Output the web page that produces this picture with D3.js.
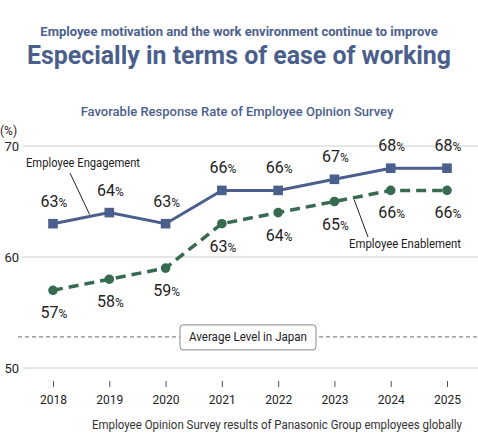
<!DOCTYPE html>
<html>
<head>
<meta charset="utf-8">
<script src="https://cdn.jsdelivr.net/npm/d3@7"></script>
<style>
  body { margin: 0; background: #fff; }
  svg { display: block; font-family: Roboto, "Noto Sans", sans-serif; }
</style>
</head>
<body>
<svg id="chart"></svg>
<script>
// chart data
var years = ["2018", "2019", "2020", "2021", "2022", "2023", "2024", "2025"];
var engagement = [63, 64, 63, 66, 66, 67, 68, 68];
var enablement = [57, 58, 59, 63, 64, 65, 66, 66];
var yTicks = [50, 60, 70];
var japanAverage = 52.8;

var width = 478, height = 437;
var blue = "#4b5f8c", green = "#366b52", titleColor = "#4b5f8c";

var svg = d3.select("#chart").attr("width", width).attr("height", height);

var x = d3.scalePoint().domain(years).range([53, 447]);
var y = d3.scaleLinear().domain([50, 70]).range([368, 146]);

// squeeze a text to the width it takes in the picture
function fitWidth(sel, w) {
  var len = sel.node().getComputedTextLength();
  if (len > w) sel.attr("textLength", w).attr("lengthAdjust", "spacingAndGlyphs");
  return sel;
}

// titles
fitWidth(svg.append("text")
  .attr("x", 239).attr("y", 36)
  .attr("text-anchor", "middle")
  .attr("font-size", 13).attr("font-weight", 700)
  .attr("fill", titleColor)
  .text("Employee motivation and the work environment continue to improve"), 402);

fitWidth(svg.append("text")
  .attr("x", 239).attr("y", 64)
  .attr("text-anchor", "middle")
  .attr("font-size", 26).attr("font-weight", 700)
  .attr("fill", titleColor)
  .text("Especially in terms of ease of working"), 424);

fitWidth(svg.append("text")
  .attr("x", 237).attr("y", 116)
  .attr("text-anchor", "middle")
  .attr("font-size", 13).attr("font-weight", 500)
  .attr("fill", titleColor)
  .text("Favorable Response Rate of Employee Opinion Survey"), 320);

// y grid + labels
svg.append("text").attr("x", 0).attr("y", 135)
  .attr("font-size", 12).attr("fill", "#222").text("(%)");

var grid = svg.append("g");
grid.selectAll("line").data(yTicks).enter().append("line")
  .attr("x1", 23).attr("x2", width)
  .attr("y1", function(d){ return y(d); })
  .attr("y2", function(d){ return y(d); })
  .attr("stroke", "#dedede").attr("stroke-width", 1.5);
grid.selectAll("text").data(yTicks).enter().append("text")
  .attr("x", 19).attr("y", function(d){ return y(d) + 5; })
  .attr("text-anchor", "end")
  .attr("font-size", 13).attr("fill", "#222")
  .text(function(d){ return d; });

// x axis: small ticks and year labels, no domain line
var xAxis = svg.append("g")
  .attr("transform", "translate(0,381)")
  .call(d3.axisBottom(x).tickSize(6).tickPadding(8));
xAxis.select(".domain").remove();
xAxis.selectAll(".tick line").attr("stroke", "#555");
xAxis.selectAll(".tick text")
  .attr("font-size", 12).attr("fill", "#222")
  .attr("font-family", "Roboto, sans-serif");

// Japan average dashed line with boxed label
svg.append("line")
  .attr("x1", 18).attr("x2", width)
  .attr("y1", y(japanAverage)).attr("y2", y(japanAverage))
  .attr("stroke", "#888").attr("stroke-width", 1.2)
  .attr("stroke-dasharray", "4,3");
svg.append("rect")
  .attr("x", 180).attr("y", y(japanAverage) - 12)
  .attr("width", 136).attr("height", 25).attr("rx", 3)
  .attr("fill", "#fff").attr("stroke", "#888").attr("stroke-width", 1);
fitWidth(svg.append("text")
  .attr("x", 248).attr("y", y(japanAverage) + 4.5)
  .attr("text-anchor", "middle")
  .attr("font-size", 12).attr("fill", "#222")
  .text("Average Level in Japan"), 118);

// lines
var line = d3.line()
  .x(function(d, i){ return x(years[i]); })
  .y(function(d){ return y(d); });

svg.append("path").datum(enablement)
  .attr("d", line).attr("fill", "none")
  .attr("stroke", green).attr("stroke-width", 3.5)
  .attr("stroke-dasharray", "10,6");
svg.append("path").datum(engagement)
  .attr("d", line).attr("fill", "none")
  .attr("stroke", blue).attr("stroke-width", 3);

svg.append("g").selectAll("circle").data(enablement).enter().append("circle")
  .attr("cx", function(d, i){ return x(years[i]); })
  .attr("cy", function(d){ return y(d); })
  .attr("r", 4.8).attr("fill", green);

svg.append("g").selectAll("rect").data(engagement).enter().append("rect")
  .attr("x", function(d, i){ return x(years[i]) - 4.8; })
  .attr("y", function(d){ return y(d) - 4.8; })
  .attr("width", 9.6).attr("height", 9.6)
  .attr("fill", blue);

// value labels, the % sign a little smaller
function valueLabels(data, dy) {
  var t = svg.append("g").selectAll("text").data(data).enter().append("text")
    .attr("x", function(d, i){ return x(years[i]) + 1; })
    .attr("y", function(d){ return y(d) + dy; })
    .attr("text-anchor", "middle")
    .attr("font-size", 16).attr("fill", "#222");
  t.append("tspan").text(function(d){ return d; });
  t.append("tspan").attr("font-size", 12).text("%");
}
valueLabels(engagement, -17);
valueLabels(enablement, 28);

// callouts
function between(i, t, data) {
  var x0 = x(years[i]), x1 = x(years[i + 1]);
  return [x0 + (x1 - x0) * t, y(data[i]) + (y(data[i + 1]) - y(data[i])) * t];
}
var pEng = between(0, 0.65, engagement);
svg.append("line")
  .attr("x1", 70).attr("y1", 173)
  .attr("x2", pEng[0]).attr("y2", pEng[1] - 2)
  .attr("stroke", "#222").attr("stroke-width", 1);
fitWidth(svg.append("text").attr("x", 26).attr("y", 167)
  .attr("font-size", 12).attr("fill", "#222").text("Employee Engagement"), 114);

var pEnb = between(5, 0.35, enablement);
svg.append("line")
  .attr("x1", pEnb[0]).attr("y1", pEnb[1] + 2)
  .attr("x2", 368).attr("y2", 237)
  .attr("stroke", "#222").attr("stroke-width", 1);
fitWidth(svg.append("text").attr("x", 349).attr("y", 248)
  .attr("font-size", 12).attr("fill", "#222").text("Employee Enablement"), 112);

// footnote
fitWidth(svg.append("text")
  .attr("x", 462).attr("y", 429)
  .attr("text-anchor", "end")
  .attr("font-size", 12).attr("fill", "#333")
  .text("Employee Opinion Survey results of Panasonic Group employees globally"), 370);
</script>
</body>
</html>
